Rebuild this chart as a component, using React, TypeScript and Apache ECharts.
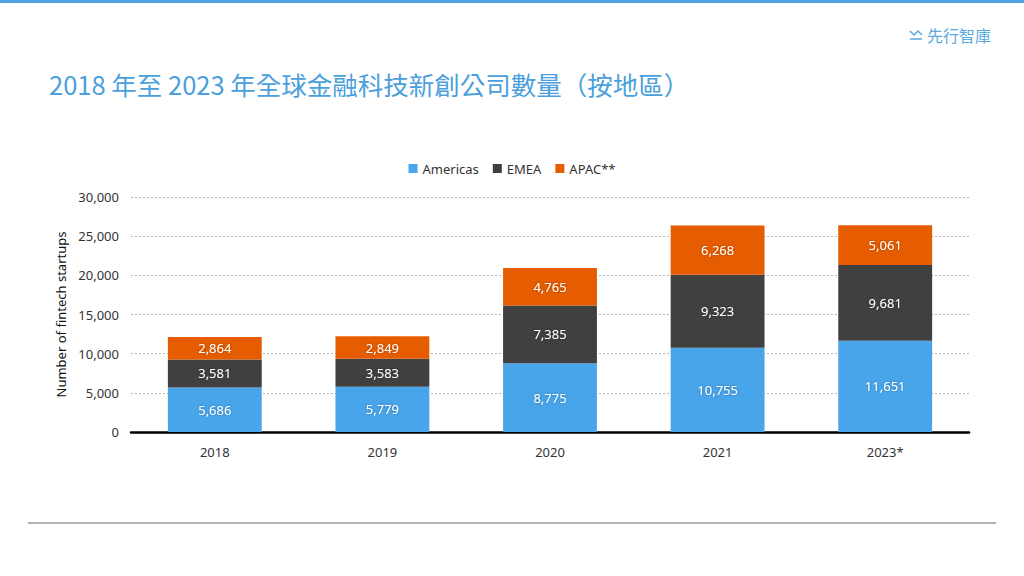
import React, { useEffect, useRef } from "react";
import * as echarts from "echarts";

const categories = ["2018", "2019", "2020", "2021", "2023*"];
const americas = [5686, 5779, 8775, 10755, 11651];
const emea = [3581, 3583, 7385, 9323, 9681];
const apac = [2864, 2849, 4765, 6268, 5061];
const seriesNames = ["Americas", "EMEA", "APAC**"];
const colors = ["#48a5ea", "#404040", "#e65c00"];
const titleText = "2018 年至 2023 年全球金融科技新創公司數量（按地區）";
const logoText = "先行智庫";
const yAxisName = "Number of fintech startups";

const fmt = (v: number) => v.toLocaleString("en-US");

export default function App() {
  const ref = useRef<HTMLDivElement>(null);
  useEffect(() => {
    if (!ref.current) return;
    const chart = echarts.init(ref.current, undefined, { renderer: "svg" });
    const data = [americas, emea, apac];
    chart.setOption({
      animation: false,
      backgroundColor: "#ffffff",
      textStyle: { fontFamily: "'Noto Sans', sans-serif" },
      legend: {
        top: 157,
        left: "center",
        itemWidth: 9,
        itemHeight: 9,
        itemGap: 14,
        icon: "rect",
        textStyle: { fontSize: 13, color: "#333", fontFamily: "'Noto Sans', sans-serif" },
        data: seriesNames,
      },
      grid: { left: 131, right: 55, top: 197, bottom: 144 },
      xAxis: {
        type: "category",
        data: categories,
        axisLine: { lineStyle: { color: "#000", width: 2.5 } },
        axisTick: { show: false },
        axisLabel: {
          color: "#333",
          fontSize: 13,
          margin: 13,
          fontFamily: "'Liberation Sans Narrow', 'Noto Sans', sans-serif",
        },
      },
      yAxis: {
        type: "value",
        min: 0,
        max: 30000,
        interval: 5000,
        name: yAxisName,
        nameLocation: "middle",
        nameGap: 60,
        nameTextStyle: { fontSize: 13, color: "#111", fontFamily: "'Noto Sans', sans-serif" },
        axisLine: { show: false },
        axisTick: { show: false },
        axisLabel: {
          color: "#333",
          fontSize: 13,
          margin: 12,
          formatter: (v: number) => fmt(v),
        },
        splitLine: { lineStyle: { color: "#b5b5b5", type: [2, 2], width: 1 } },
      },
      series: seriesNames.map((name, i) => ({
        name,
        type: "bar",
        stack: "total",
        barWidth: "56%",
        itemStyle: { color: colors[i] },
        label: {
          show: true,
          position: "inside",
          color: "#ffffff",
          fontSize: 13,
          formatter: (p: any) => fmt(p.value),
          textShadowColor: "rgba(0,0,0,0.35)",
          textShadowBlur: 2,
        },
        data: data[i],
      })),
      graphic: [
        { type: "rect", left: 0, top: 0, shape: { width: 1024, height: 3 }, style: { fill: "#4da3e6" } },
        {
          type: "polyline",
          shape: { points: [[910, 31], [914, 35], [918, 31], [922, 35]] },
          style: { stroke: "#5aaae0", lineWidth: 1.5, fill: "none" },
        },
        {
          type: "line",
          shape: { x1: 910, y1: 39, x2: 922, y2: 39 },
          style: { stroke: "#5aaae0", lineWidth: 1.5 },
        },
        {
          type: "text",
          x: 927,
          y: 35,
          style: {
            text: logoText,
            fill: "#5aaae0",
            font: "16px 'Noto Sans CJK TC'",
            textVerticalAlign: "middle",
          },
        },
        {
          type: "text",
          x: 49,
          y: 83,
          style: {
            text: titleText,
            fill: "#4a9fdc",
            font: "25.5px 'Noto Sans CJK TC'",
            textVerticalAlign: "middle",
          },
        },
        {
          type: "line",
          shape: { x1: 28, y1: 523, x2: 996, y2: 523 },
          style: { stroke: "#9a9a9a", lineWidth: 1.5 },
        },
      ],
    });
    return () => chart.dispose();
  }, []);
  return (
    <div
      ref={ref}
      style={{ position: "absolute", left: 0, top: 0, width: 1024, height: 576 }}
    />
  );
}
